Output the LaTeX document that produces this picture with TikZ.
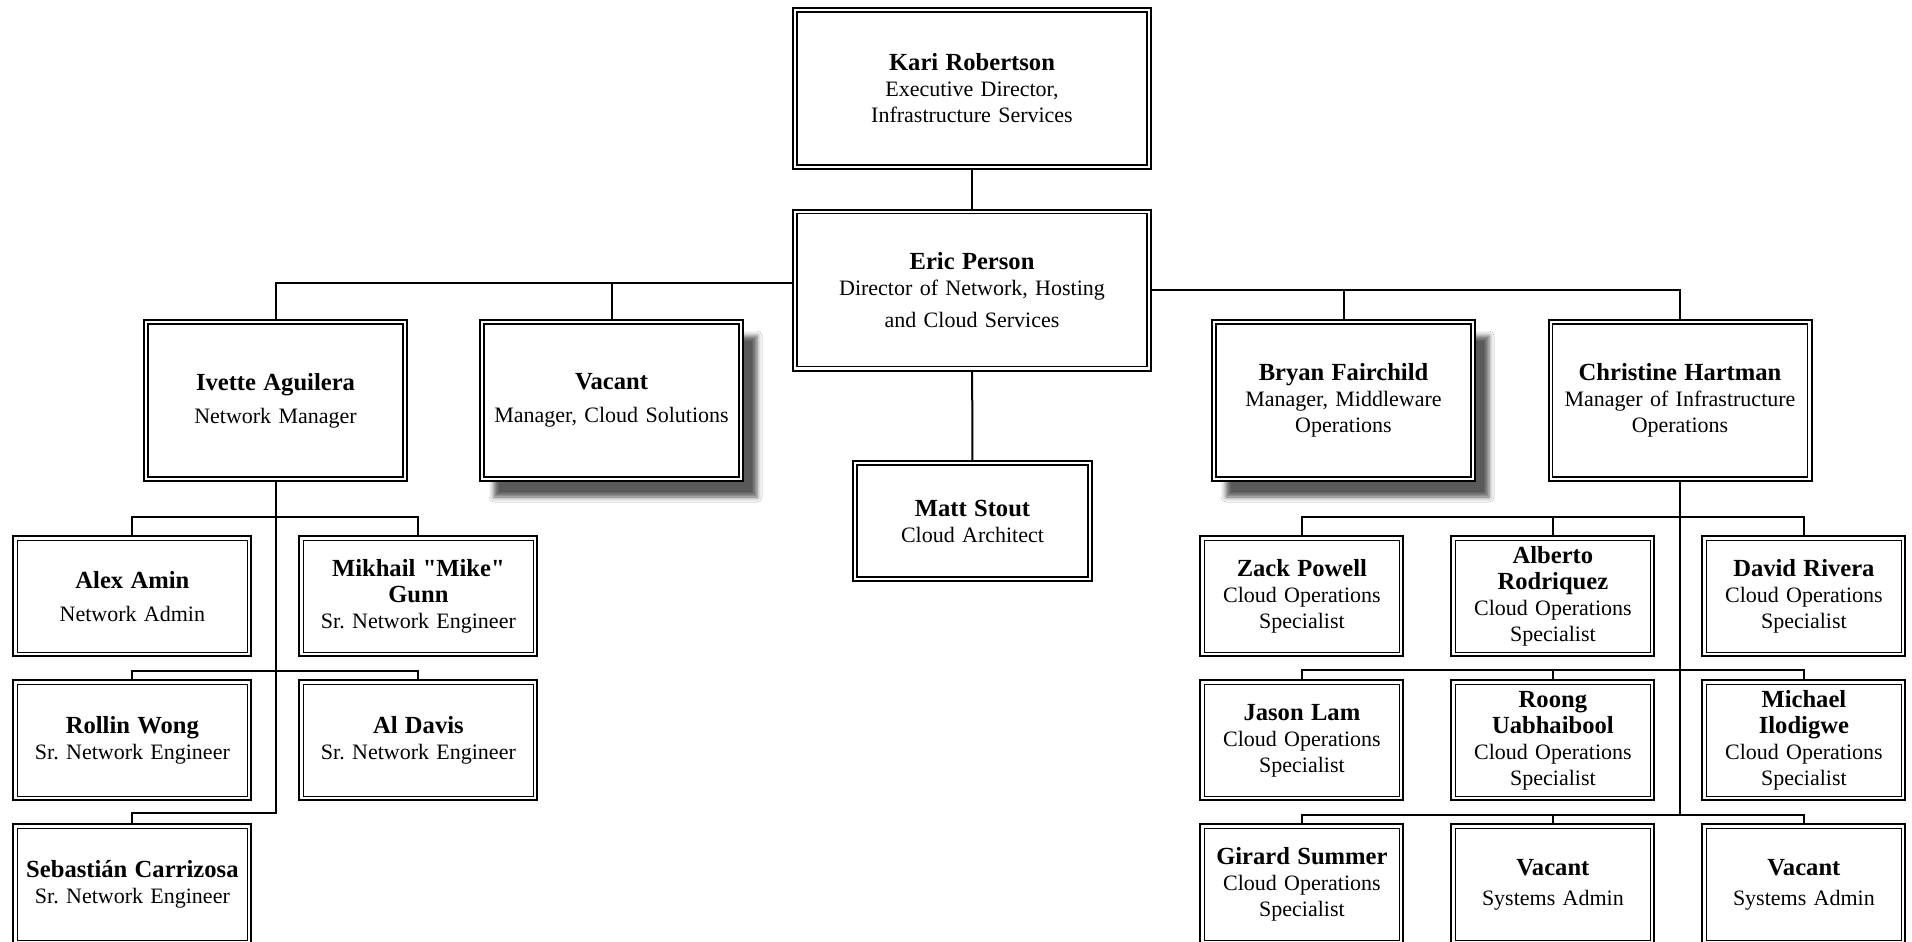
\documentclass[tikz,border=0pt]{standalone}
\usepackage{fontspec}
\setmainfont{Liberation Serif}
\usetikzlibrary{matrix,positioning,calc,shadows.blur}
\frenchspacing

\newcommand{\nm}[1]{{\fontsize{12.3pt}{13pt}\selectfont\bfseries #1}}
\newcommand{\who}[3][0pt]{\nm{#2}\\[#1]#3}

\begin{document}
\begin{tikzpicture}[x=0.5pt,y=-0.5pt]
\tikzset{box/.style={draw,line width=1pt,fill=white,inner sep=1pt,align=center,
    font=\fontsize{11pt}{13pt}\selectfont,
    path picture={\draw[line width=0.65pt]
      ([shift={(2pt,-2pt)}]path picture bounding box.north west) rectangle
      ([shift={(-2pt,2pt)}]path picture bounding box.south east);}},
  topbox/.style={box,text width=177pt,minimum height=80.5pt},
  mgrbox/.style={box,text width=129.5pt,minimum height=80.5pt},
  midbox/.style={box,text width=117.5pt,minimum height=60pt},
  netcell/.style={box,text width=117pt,minimum height=60pt,anchor=center},
  opscell/.style={box,text width=99.5pt,minimum height=60pt,anchor=center},
  shadowed/.style={blur shadow={shadow xshift=7pt,shadow yshift=-8pt,shadow blur radius=2.5pt,shadow opacity=65}},
  link/.style={line width=1pt}}
\fill[white] (0,0) rectangle (1912,942);
\useasboundingbox (0,0) rectangle (1912,942);

\node[topbox] (kari) at (972,88.5) {\who{Kari Robertson}{Executive Director,\\Infrastructure Services}};
\node[topbox] (eric) at (972,290) {\who{Eric Person}{Director of Network, Hosting\\[3pt]and Cloud Services}};
\node[mgrbox] (ivette) at (275.5,400.5) {\who[3.5pt]{Ivette Aguilera}{Network Manager}};
\node[mgrbox,shadowed] (vacant) at (611.5,400.5) {\who[3.5pt]{Vacant}{Manager, Cloud Solutions}};
\node[mgrbox,shadowed] (bryan) at (1343.5,400.5) {\who{Bryan Fairchild}{Manager, Middleware\\Operations}};
\node[mgrbox] (christine) at (1680,400.5) {\who{Christine Hartman}{Manager of Infrastructure\\Operations}};
\node[midbox] (matt) at (972.5,521) {\who{Matt Stout}{Cloud Architect}};

\matrix (net) [matrix of nodes, nodes={netcell}, column sep=23pt, row sep=11pt, inner sep=0pt, anchor=north west] at (12,535) {
{\who[3.5pt]{Alex Amin}{Network Admin}} & {\who{Mikhail \textquotedbl Mike\textquotedbl\\Gunn}{Sr. Network Engineer}} \\
{\who{Rollin Wong}{Sr. Network Engineer}} & {\who{Al Davis}{Sr. Network Engineer}} \\
{\who{Sebastián Carrizosa}{Sr. Network Engineer}} & \\
};

\matrix (ops) [matrix of nodes, nodes={opscell}, column sep=23pt, row sep=11pt, inner sep=0pt, anchor=north west] at (1199,535) {
{\who{Zack Powell}{Cloud Operations\\Specialist}} & {\who{Alberto\\Rodriquez}{Cloud Operations\\Specialist}} & {\who{David Rivera}{Cloud Operations\\Specialist}} \\
{\who{Jason Lam}{Cloud Operations\\Specialist}} & {\who{Roong\\Uabhaibool}{Cloud Operations\\Specialist}} & {\who{Michael\\Ilodigwe}{Cloud Operations\\Specialist}} \\
{\who{Girard Summer}{Cloud Operations\\Specialist}} & {\who[2pt]{Vacant}{Systems Admin}} & {\who[2pt]{Vacant}{Systems Admin}} \\
};

\coordinate (ebl) at ([yshift=3.5pt]eric.west);
\draw[link] (kari) -- (eric);
\draw[link] (eric) -- (matt);
\draw[link] (ebl) -| (ivette.north);
\draw[link] (vacant.north) -- (vacant.north |- ebl);
\draw[link] (eric.east) -| (christine.north);
\draw[link] (bryan.north) -- (bryan.north |- eric.east);

\draw[link] (ivette.south) |- ($(net-3-1.north)+(0,-10)$) -- (net-3-1.north);
\draw[link] (net-1-1.north) -- ++(0,-18) -| (net-1-2.north);
\draw[link] (net-2-1.north) -- ++(0,-8) -| (net-2-2.north);

\draw[link] (christine.south) -- ($(christine.south |- ops-3-1.north)+(0,-8)$);
\draw[link] (ops-1-1.north) -- ++(0,-18) -| (ops-1-3.north);
\draw[link] (ops-1-2.north) -- ++(0,-18);
\draw[link] (ops-2-1.north) -- ++(0,-9) -| (ops-2-3.north);
\draw[link] (ops-2-2.north) -- ++(0,-9);
\draw[link] (ops-3-1.north) -- ++(0,-8) -| (ops-3-3.north);
\draw[link] (ops-3-2.north) -- ++(0,-8);
\end{tikzpicture}
\end{document}
